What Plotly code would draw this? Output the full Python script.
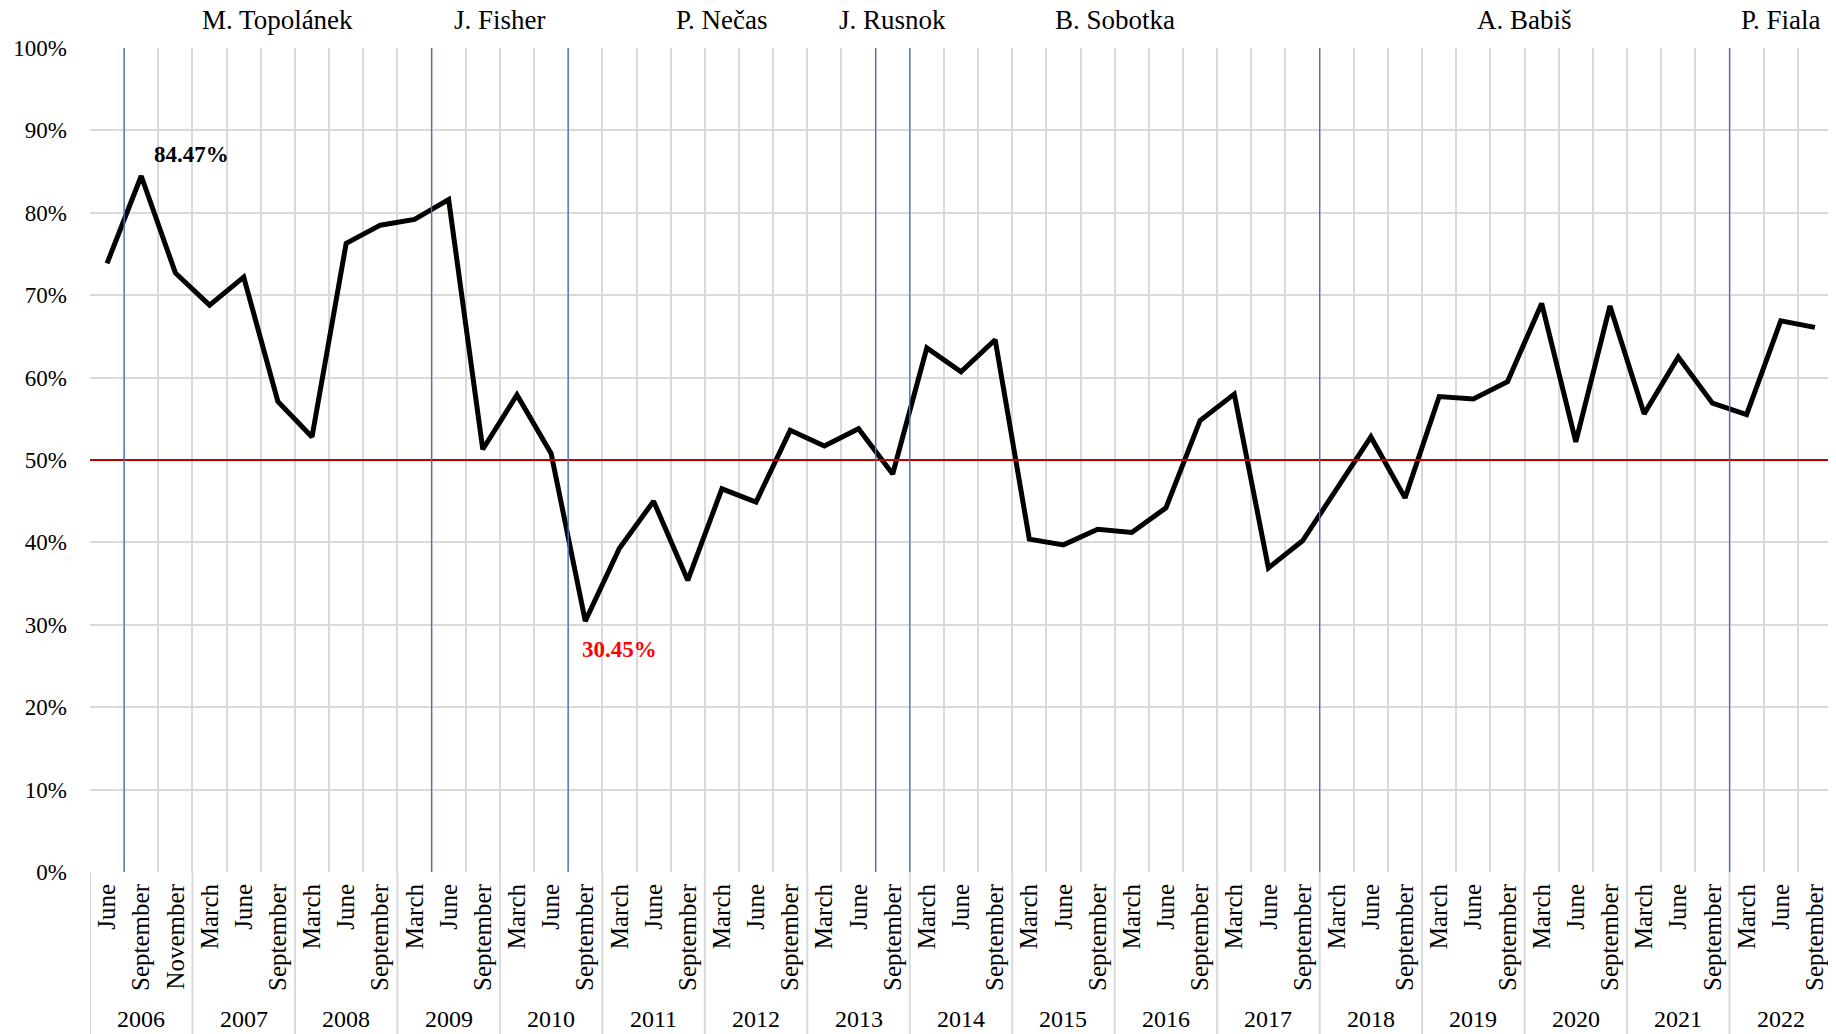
import plotly.graph_objects as go

# ---------------- data ----------------
years = ["2006", "2007", "2008", "2009", "2010", "2011", "2012", "2013", "2014",
         "2015", "2016", "2017", "2018", "2019", "2020", "2021", "2022"]
months_2006 = ["June", "September", "November"]
months_other = ["March", "June", "September"]

values = [73.87, 84.47, 72.7, 68.8, 72.2, 57.1, 52.8, 76.3, 78.5, 79.2, 81.6,
          51.3, 57.9, 50.8, 30.45, 39.3, 45.0, 35.4, 46.5, 44.9, 53.6, 51.7,
          53.8, 48.3, 63.6, 60.7, 64.6, 40.4, 39.7, 41.6, 41.2, 44.2, 54.8,
          58.0, 36.9, 40.2, 46.5, 52.8, 45.4, 57.7, 57.4, 59.5, 69.0, 52.2,
          68.7, 55.6, 62.5, 56.9, 55.5, 66.9, 66.1]

y_ticks = [0, 10, 20, 30, 40, 50, 60, 70, 80, 90, 100]
y_tick_labels = ["0%", "10%", "20%", "30%", "40%", "50%", "60%", "70%", "80%", "90%", "100%"]

prime_ministers = ["M. Topolánek", "J. Fisher", "P. Nečas", "J. Rusnok",
                   "B. Sobotka", "A. Babiš", "P. Fiala"]
# first survey (year, month) under each government
government_starts = [("2006", "September"), ("2009", "June"), ("2010", "September"),
                     ("2013", "September"), ("2014", "March"), ("2018", "March"),
                     ("2022", "March")]

max_label = "84.47%"
min_label = "30.45%"
threshold = 50

# ---------------- build categories ----------------
cat_year, cat_month = [], []
for y in years:
    ms = months_2006 if y == "2006" else months_other
    for m in ms:
        cat_year.append(y)
        cat_month.append(m)
n = len(values)
xs = list(range(n))

FONT = "Liberation Serif"
GRID = "#D9D9D9"
PLOT_H = 824

fig = go.Figure()
fig.add_trace(go.Scatter(x=xs, y=values, mode="lines",
                         line=dict(color="black", width=5),
                         hoverinfo="skip", showlegend=False))

shapes = []
# threshold line
shapes.append(dict(type="line", xref="paper", x0=0, x1=1, yref="y", y0=threshold, y1=threshold,
                   line=dict(color="#C00000", width=2), layer="above"))
# government change lines
start_idx = []
for (gy, gm) in government_starts:
    for i in range(n):
        if cat_year[i] == gy and cat_month[i] == gm:
            start_idx.append(i)
            break
for i in start_idx:
    shapes.append(dict(type="line", xref="x", x0=i - 0.5, x1=i - 0.5, yref="paper", y0=0, y1=1,
                       line=dict(color="#4472C4", width=1.3), layer="above"))

# year separators below the axis and year labels
annotations = []
pos = 0
bottom = -162 / PLOT_H
shapes.append(dict(type="line", xref="x", x0=-0.5, x1=-0.5, yref="paper", y0=0, y1=bottom,
                   line=dict(color=GRID, width=2)))
for y in years:
    cnt = cat_year.count(y)
    end = pos + cnt
    shapes.append(dict(type="line", xref="x", x0=end - 0.5, x1=end - 0.5, yref="paper",
                       y0=0, y1=bottom, line=dict(color=GRID, width=2)))
    annotations.append(dict(x=(pos + end - 1) / 2, xref="x", y=-147 / PLOT_H, yref="paper",
                            text=y, showarrow=False, yanchor="middle",
                            font=dict(family=FONT, size=24, color="black")))
    pos = end

# prime minister names (centred over each term)
bounds = start_idx + [n]
for k, name in enumerate(prime_ministers):
    a = start_idx[k] - 0.5
    b = bounds[k + 1] - 0.5
    annotations.append(dict(x=(a + b) / 2, xref="x", y=1 + 28 / PLOT_H, yref="paper",
                            text=name, showarrow=False, yanchor="middle",
                            font=dict(family=FONT, size=27, color="black")))

# max / min labels
imax = values.index(max(values))
imin = values.index(min(values))
annotations.append(dict(x=imax, y=values[imax], xref="x", yref="y", text="<b>" + max_label + "</b>",
                        showarrow=False, xanchor="left", yanchor="middle", xshift=11, yshift=21,
                        font=dict(family=FONT, size=23, color="black")))
annotations.append(dict(x=imin, y=values[imin], xref="x", yref="y", text="<b>" + min_label + "</b>",
                        showarrow=False, xanchor="left", yanchor="middle", xshift=-5, yshift=-28,
                        font=dict(family=FONT, size=23, color="#FF0000")))

fig.update_layout(
    width=1828, height=1026,
    margin=dict(l=82, r=4, t=40, b=162),
    paper_bgcolor="white", plot_bgcolor="white",
    shapes=shapes, annotations=annotations,
    font=dict(family=FONT, color="black"),
    xaxis=dict(range=[-0.5, n - 0.5], tickvals=xs, ticktext=cat_month, tickangle=-90,
               showgrid=False, zeroline=False, showline=False, ticks="",
               ticklabelstandoff=6,
               tickfont=dict(family=FONT, size=25, color="black"),
               minor=dict(tickvals=[i - 0.5 for i in range(n + 1)], showgrid=True,
                          gridcolor=GRID, gridwidth=2, ticks="")),
    yaxis=dict(range=[0, 100], tickvals=y_ticks, ticktext=y_tick_labels,
               showgrid=True, gridcolor=GRID, gridwidth=2, zeroline=False, showline=False,
               ticks="", ticklabelstandoff=22,
               tickfont=dict(family=FONT, size=23, color="black")),
)

fig.write_html("out.html")
